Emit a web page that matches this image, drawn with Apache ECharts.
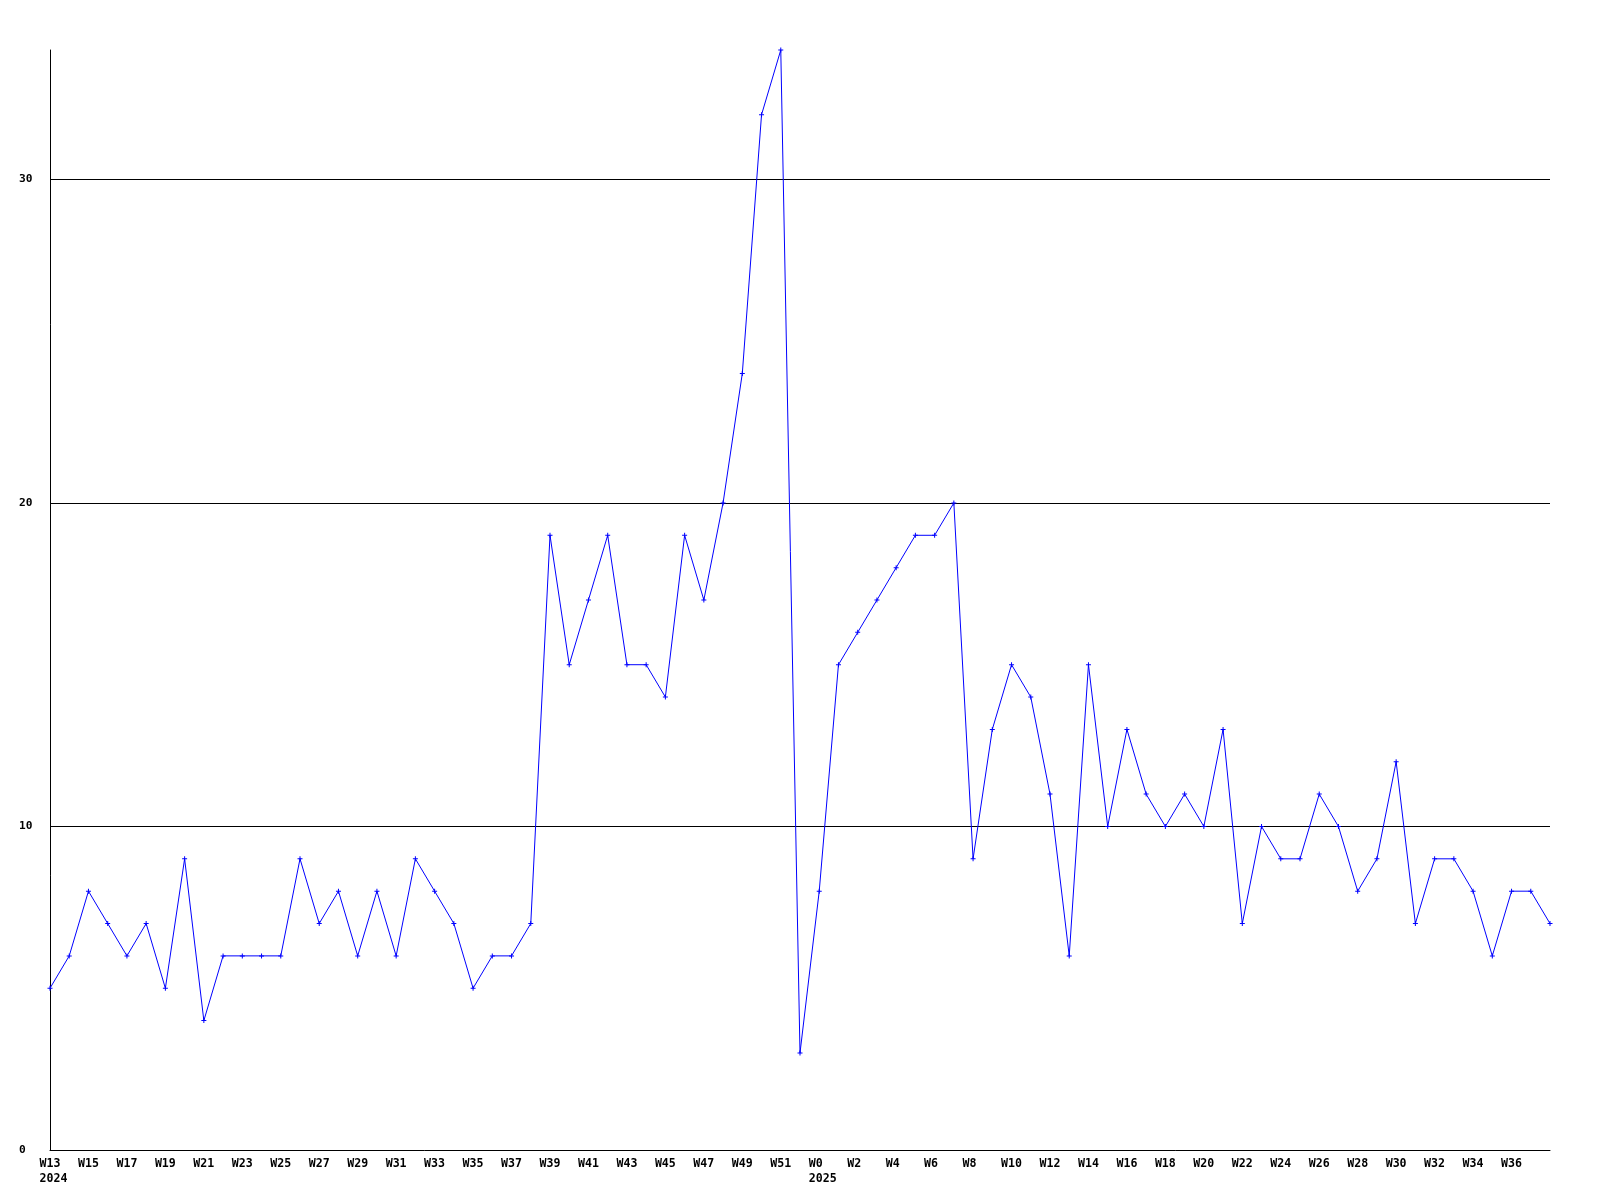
<!DOCTYPE html>
<html>
<head>
<meta charset="utf-8">
<script src="https://cdn.jsdelivr.net/npm/echarts@6/dist/echarts.min.js"></script>
<style>
html,body{margin:0;padding:0;background:#fff;}
#chart{width:1600px;height:1200px;}
</style>
</head>
<body>
<div id="chart"></div>
<script>
// Week categories: 2024 W13..W52, 2025 W0..W38
const weeks2024 = ["W13","W14","W15","W16","W17","W18","W19","W20","W21","W22","W23","W24","W25","W26","W27","W28","W29","W30","W31","W32","W33","W34","W35","W36","W37","W38","W39","W40","W41","W42","W43","W44","W45","W46","W47","W48","W49","W50","W51","W52"];
const weeks2025 = ["W0","W1","W2","W3","W4","W5","W6","W7","W8","W9","W10","W11","W12","W13","W14","W15","W16","W17","W18","W19","W20","W21","W22","W23","W24","W25","W26","W27","W28","W29","W30","W31","W32","W33","W34","W35","W36","W37","W38"];
const values2024 = [5,6,8,7,6,7,5,9,4,6,6,6,6,9,7,8,6,8,6,9,8,7,5,6,6,7,19,15,17,19,15,15,14,19,17,20,24,32,34,3];
const values2025 = [8,15,16,17,18,19,19,20,9,13,15,14,11,6,15,10,13,11,10,11,10,13,7,10,9,9,11,10,8,9,12,7,9,9,8,6,8,8,7];
const yTicks = [0,10,20,30];
const yMax = 34;

const categories = [];
weeks2024.forEach(w => { categories.push("2024-" + w); });
weeks2025.forEach(w => { categories.push("2025-" + w); });
const values = values2024.concat(values2025);

const font = '"DejaVu Sans Mono", monospace';
const chart = echarts.init(document.getElementById('chart'), null, {renderer: 'canvas'});
chart.setOption({
  animation: false,
  backgroundColor: '#ffffff',
  grid: {left: 50, right: 50, top: 50, bottom: 50, containLabel: false},
  xAxis: {
    type: 'category',
    data: categories,
    boundaryGap: false,
    axisLine: {show: true, lineStyle: {color: '#000', width: 1}},
    axisTick: {show: false},
    splitLine: {show: false},
    axisLabel: {
      interval: function (i) { return i % 2 === 0 && i < categories.length - 1; },
      margin: 6,
      color: '#000',
      fontFamily: font,
      fontWeight: 'bold',
      fontSize: 11.6,
      lineHeight: 15,
      align: 'center',
      formatter: function (v, i) {
        const parts = v.split('-');
        const year = parts[0], wk = parts[1];
        if (i === 0 || wk === 'W0') return '{a|' + wk + '}\n{a|' + year + '}';
        return '{a|' + wk + '}';
      },
      rich: {
        a: {width: 21, align: 'left', color: '#000', fontFamily: font, fontWeight: 'bold', fontSize: 11.6, lineHeight: 15}
      }
    }
  },
  yAxis: {
    type: 'value',
    min: 0,
    max: yMax,
    interval: 10,
    axisLine: {show: true, lineStyle: {color: '#000', width: 1}},
    axisTick: {show: false},
    splitLine: {show: true, showMinLine: false, showMaxLine: false, lineStyle: {color: '#000', width: 1}},
    axisLabel: {
      align: 'left',
      margin: 31,
      color: '#000',
      fontFamily: font,
      fontWeight: 'bold',
      fontSize: 11.2,
      formatter: function (v) { return yTicks.indexOf(v) >= 0 ? String(v) : ''; }
    }
  },
  series: [{
    type: 'line',
    data: values,
    symbol: 'path://M2,0H3V2H5V3H3V5H2V3H0V2H2Z',
    symbolSize: 5,
    itemStyle: {color: '#0000ff'},
    lineStyle: {color: '#0000ff', width: 1},
    silent: true
  }]
});
</script>
</body>
</html>
